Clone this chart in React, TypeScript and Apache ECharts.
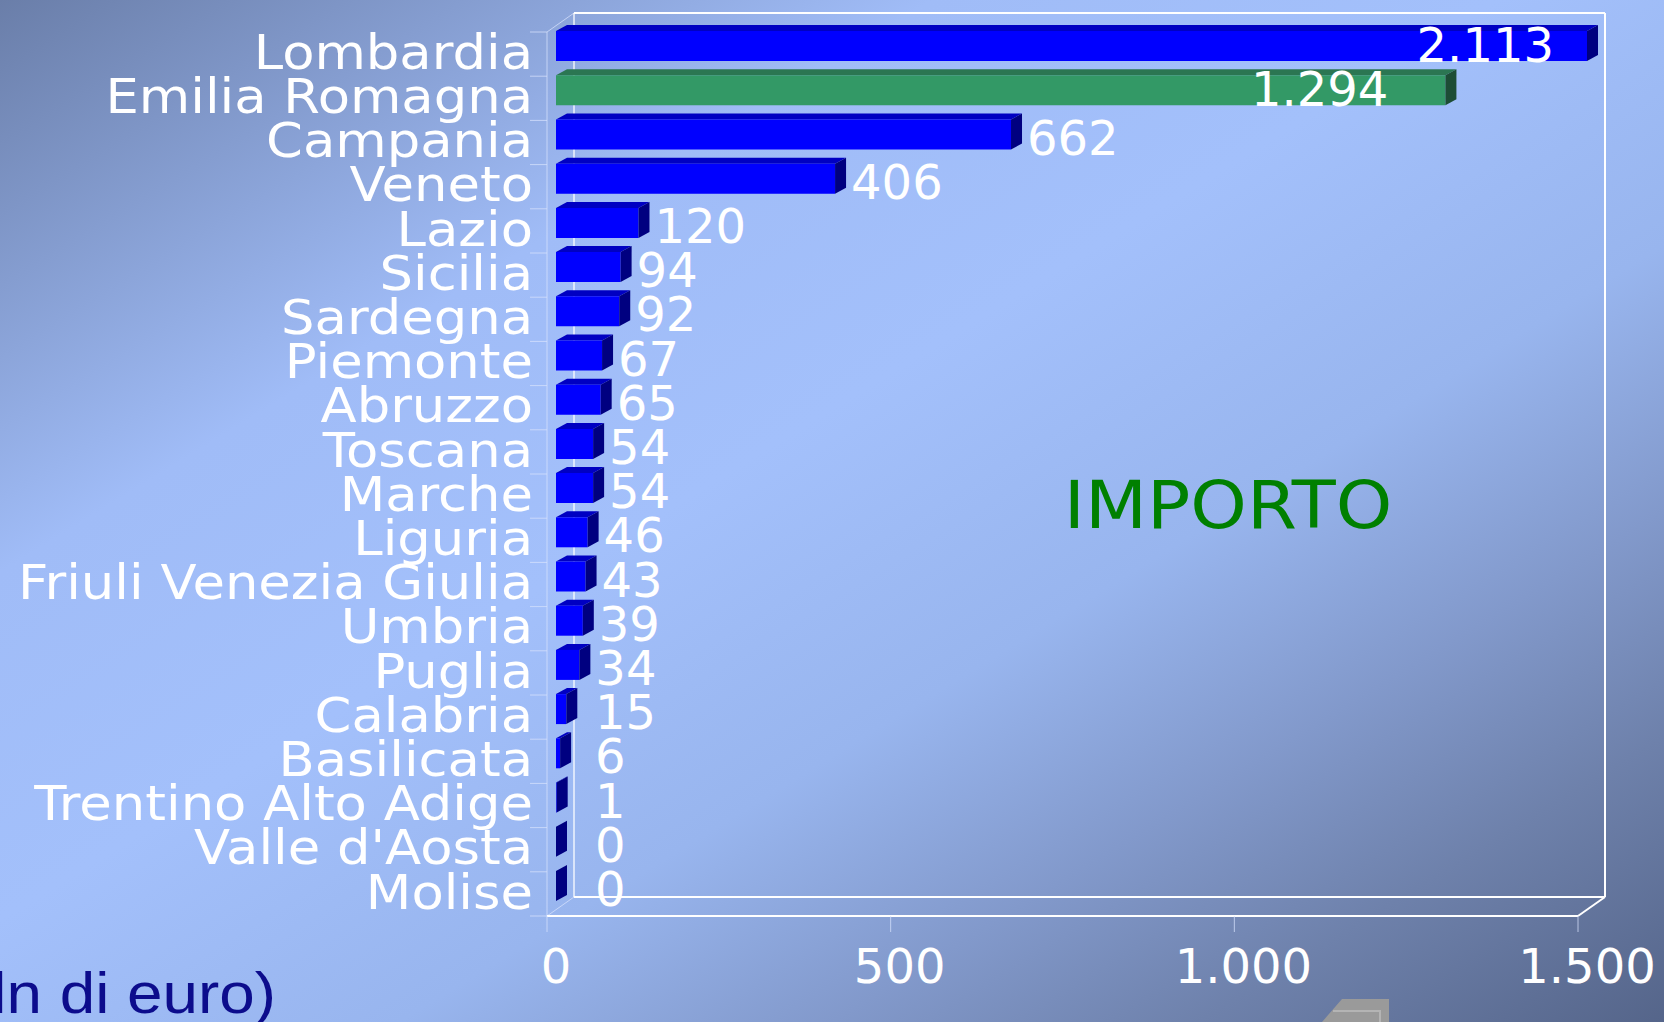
import { useEffect, useRef } from 'react';
import * as echarts from 'echarts';

const categories = [
  'Lombardia', 'Emilia Romagna', 'Campania', 'Veneto', 'Lazio', 'Sicilia', 'Sardegna',
  'Piemonte', 'Abruzzo', 'Toscana', 'Marche', 'Liguria', 'Friuli Venezia Giulia', 'Umbria',
  'Puglia', 'Calabria', 'Basilicata', 'Trentino Alto Adige', "Valle d'Aosta", 'Molise',
];
const values = [2113, 1294, 662, 406, 120, 94, 92, 67, 65, 54, 54, 46, 43, 39, 34, 15, 6, 1, 0, 0];
const highlighted = ['Emilia Romagna'];
const xTicks = [0, 500, 1000, 1500];
const AXIS_MAX = 1500;
const seriesTitle = 'IMPORTO';
const unitText = '(mln di euro)';

const FONT = 'DejaVu Sans';
const fmt = (v: number) => String(v).replace(/\B(?=(\d{3})+(?!\d))/g, '.');

// 3D offsets (style)
const FRONT = { dx: -9, dy: 8 };
const BACK = { dx: 18, dy: -11 };
const DEPTH = { dx: 11, dy: 6 };
const BAR_H = 30;

export default function App() {
  const ref = useRef<HTMLDivElement>(null);
  useEffect(() => {
    document.body.style.margin = '0';
    if (!ref.current) return;
    const chart = echarts.init(ref.current, undefined, { renderer: 'svg' });
    const faint = 'rgba(215,226,252,0.75)';

    const frameItem = (params: any, api: any) => {
      const cs = params.coordSys;
      const gx = cs.x, gy = cs.y, gw = cs.width, gh = cs.height;
      const fx0 = gx + FRONT.dx, fx1 = gx + gw + FRONT.dx;
      const ftop = gy + FRONT.dy, fbot = gy + gh + FRONT.dy;
      const bx0 = gx + BACK.dx, bx1 = gx + gw + BACK.dx;
      const btop = gy + BACK.dy, bbot = gy + gh + BACK.dy;
      const band = gh / categories.length;
      const ln = (x1: number, y1: number, x2: number, y2: number, stroke: string, w: number) => ({
        type: 'line', shape: { x1, y1, x2, y2 }, style: { stroke, lineWidth: w },
      });
      const children: any[] = [
        ln(fx0, ftop, fx0, fbot, faint, 1),
        ln(fx0, ftop, bx0, btop, faint, 1),
        ln(fx0, fbot, bx0, bbot, faint, 1),
        ln(bx0, btop, bx0, bbot, 'rgba(255,255,255,0.85)', 1.5),
        ln(bx0, btop, bx1, btop, '#ffffff', 2),
        ln(bx1, btop, bx1, bbot, '#ffffff', 2),
        ln(bx0, bbot, bx1, bbot, '#ffffff', 2),
        ln(fx0, fbot, fx1, fbot, '#ffffff', 2),
        ln(fx1, fbot, bx1, bbot, '#ffffff', 2),
      ];
      for (let i = 0; i <= categories.length; i++) {
        const y = ftop + i * band;
        children.push(ln(fx0 - 17, y, fx0, y, faint, 1));
      }
      xTicks.forEach((t) => {
        const x = api.coord([t, 0])[0] + FRONT.dx;
        children.push(ln(x, fbot, x, fbot + 16, faint, 1));
      });
      return { type: 'group', children };
    };

    const barItem = (params: any, api: any) => {
      const idx = api.value(0);
      const v = api.value(1);
      const clipped = Math.min(v, AXIS_MAX);
      const s = api.coord([0, idx]);
      const e = api.coord([clipped, idx]);
      const x0 = s[0], x1 = e[0], yc = s[1];
      const top = yc - BAR_H / 2, bot = yc + BAR_H / 2;
      const hi = highlighted.includes(categories[idx]);
      const col = hi
        ? { front: '#339966', top: '#2b7652', side: '#1d4d35' }
        : { front: '#0000ff', top: '#0000c2', side: '#000080' };
      const children: any[] = [];
      if (x1 - x0 > 0.5) {
        children.push({
          type: 'polygon',
          shape: { points: [[x0, top], [x1, top], [x1 + DEPTH.dx, top - DEPTH.dy], [x0 + DEPTH.dx, top - DEPTH.dy]] },
          style: { fill: col.top },
        });
        children.push({
          type: 'rect', shape: { x: x0, y: top, width: x1 - x0, height: BAR_H },
          style: { fill: col.front },
        });
      }
      children.push({
        type: 'polygon',
        shape: { points: [[x1, top], [x1 + DEPTH.dx, top - DEPTH.dy], [x1 + DEPTH.dx, bot - DEPTH.dy], [x1, bot]] },
        style: { fill: col.side },
      });
      let lx: number;
      let ly: number;
      let align: string;
      if (v > 1000) {
        align = 'right';
        lx = x1 - (v > AXIS_MAX ? 33 : 57);
        ly = yc - 1.5;
      } else {
        align = 'left';
        lx = Math.max(x1 + DEPTH.dx + 5, x0 + 39);
        ly = yc + 3;
      }
      children.push({
        type: 'text',
        style: {
          text: fmt(v), x: lx, y: ly, align, verticalAlign: 'middle',
          fill: '#ffffff', font: `48px "${FONT}"`, lineHeight: 40,
        },
      });
      // category label (horizontally stretched like the original)
      children.push({
        type: 'text', x: x0 - 23, y: yc + 6, scaleX: 1.1,
        style: {
          text: categories[idx], x: 0, y: 0, align: 'right', verticalAlign: 'middle',
          fill: '#ffffff', font: `48px "${FONT}"`, lineHeight: 40,
        },
      });
      return { type: 'group', children };
    };

    chart.setOption({
      animation: false,
      backgroundColor: new echarts.graphic.LinearGradient(0, 0, 1, 1, [
        { offset: 0, color: '#6a7ea9' },
        { offset: 0.28, color: '#a0bcf7' },
        { offset: 0.45, color: '#a3c0fb' },
        { offset: 0.62, color: '#98b5ee' },
        { offset: 0.75, color: '#8299cb' },
        { offset: 0.86, color: '#6e81ab' },
        { offset: 1, color: '#55658a' },
      ]),
      grid: { left: 556, right: 77, top: 24, bottom: 114, containLabel: false },
      xAxis: {
        type: 'value', min: 0, max: AXIS_MAX, interval: 500,
        axisLine: { show: false }, axisTick: { show: false }, splitLine: { show: false },
        axisLabel: {
          color: '#ffffff', fontSize: 48, fontFamily: FONT, margin: 34,
          formatter: (v: number) => fmt(v),
        },
      },
      yAxis: {
        type: 'category', data: categories, inverse: true,
        axisLine: { show: false }, axisTick: { show: false }, splitLine: { show: false },
        axisLabel: { show: false },
      },
      series: [
        {
          type: 'custom', name: 'frame', renderItem: frameItem, data: [[0, 0]],
          encode: { x: 1, y: 0 }, silent: true, z: 1, clip: false,
        },
        {
          type: 'custom', name: seriesTitle, renderItem: barItem,
          data: values.map((v, i) => [i, v]), encode: { x: 1, y: 0 }, z: 2, clip: false,
        },
      ],
      graphic: [
        {
          type: 'text', x: 1228, y: 505, scaleX: 1.09,
          style: {
            text: seriesTitle, x: 0, y: 0, align: 'center', verticalAlign: 'middle',
            fill: '#008000', font: `66px "${FONT}"`,
          },
        },
        {
          type: 'text', x: 276, y: 993, scaleX: 1.1,
          style: {
            text: unitText, x: 0, y: 0, align: 'right', verticalAlign: 'middle',
            fill: '#0c0c8c', font: '58px "Liberation Sans"',
          },
        },
        {
          type: 'polygon',
          shape: { points: [[1342, 999], [1389, 999], [1389, 1022], [1322, 1022]] },
          style: { fill: '#9a9a9a' },
        },
        {
          type: 'polyline',
          shape: { points: [[1333, 1011], [1380, 1011], [1380, 1022]] },
          style: { stroke: '#b4b4b4', lineWidth: 2, fill: 'none' },
        },
      ],
    });
    return () => chart.dispose();
  }, []);
  return <div ref={ref} style={{ width: 1664, height: 1022 }} />;
}
